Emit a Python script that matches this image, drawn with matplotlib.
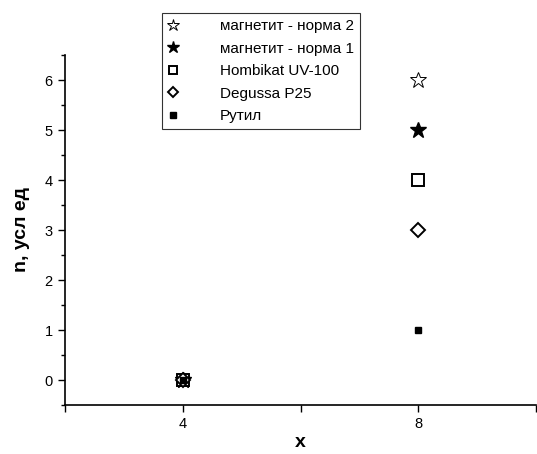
import matplotlib
matplotlib.use("Agg")
import matplotlib.pyplot as plt
from matplotlib.ticker import MultipleLocator, FixedLocator

plt.rcParams['font.family'] = ['Liberation Sans', 'DejaVu Sans']

labels = ['магнетит - норма 2', 'магнетит - норма 1', 'Hombikat UV-100', 'Degussa P25', 'Рутил']
x_vals = [4, 8]
y_norm2 = [0, 6]
y_norm1 = [0, 5]
y_hombikat = [0, 4]
y_degussa = [0, 3]
y_rutile = [0, 1]
xtick_labels = ['4', '8']

fig = plt.figure(figsize=(5.37, 4.54), dpi=100)
ax = fig.add_axes([65/537, 1 - 405/454, 471/537, 350/454])

ax.plot(x_vals, y_norm2, linestyle='none', marker='*', markersize=12,
        markerfacecolor='white', markeredgecolor='black', markeredgewidth=0.7, label=labels[0])
ax.plot(x_vals, y_norm1, linestyle='none', marker='*', markersize=12,
        color='black', label=labels[1])
ax.plot(x_vals, y_hombikat, linestyle='none', marker='s', markersize=8,
        markerfacecolor='white', markeredgecolor='black', markeredgewidth=1.4, label=labels[2])
ax.plot(x_vals, y_degussa, linestyle='none', marker='D', markersize=7,
        markerfacecolor='white', markeredgecolor='black', markeredgewidth=1.4, label=labels[3])
ax.plot(x_vals, y_rutile, linestyle='none', marker='s', markersize=5,
        color='black', label=labels[4])

ax.set_xlim(2, 10)
ax.set_ylim(-0.5, 6.5)
ax.xaxis.set_major_locator(FixedLocator([2, 4, 6, 8, 10]))
ax.set_xticklabels(['', '4', '', '8', ''])
ax.yaxis.set_major_locator(MultipleLocator(1))
ax.yaxis.set_minor_locator(MultipleLocator(0.5))

for s in ['top', 'right']:
    ax.spines[s].set_visible(False)
for s in ['left', 'bottom']:
    ax.spines[s].set_linewidth(1.2)
ax.tick_params(axis='both', direction='out', length=5, width=1.0, labelsize=10.5, colors='black')
ax.tick_params(axis='y', which='minor', direction='out', length=3, width=1.0)
ax.tick_params(axis='y', pad=4)

ax.set_xlabel('x', fontsize=14, fontweight='bold', labelpad=2)
ax.set_ylabel('n, усл ед', fontsize=14, fontweight='bold', labelpad=10)

leg = ax.legend(loc='upper left', frameon=True, fancybox=False, edgecolor='black', fontsize=11,
                handletextpad=2.8, labelspacing=0.56, borderpad=0.4, handlelength=0.6,
                borderaxespad=0, markerscale=0.75)
leg.set_bbox_to_anchor((162/537, 1 - 13/454), transform=fig.transFigure)
leg.get_frame().set_linewidth(0.8)

fig.savefig('out.png', dpi=100)
